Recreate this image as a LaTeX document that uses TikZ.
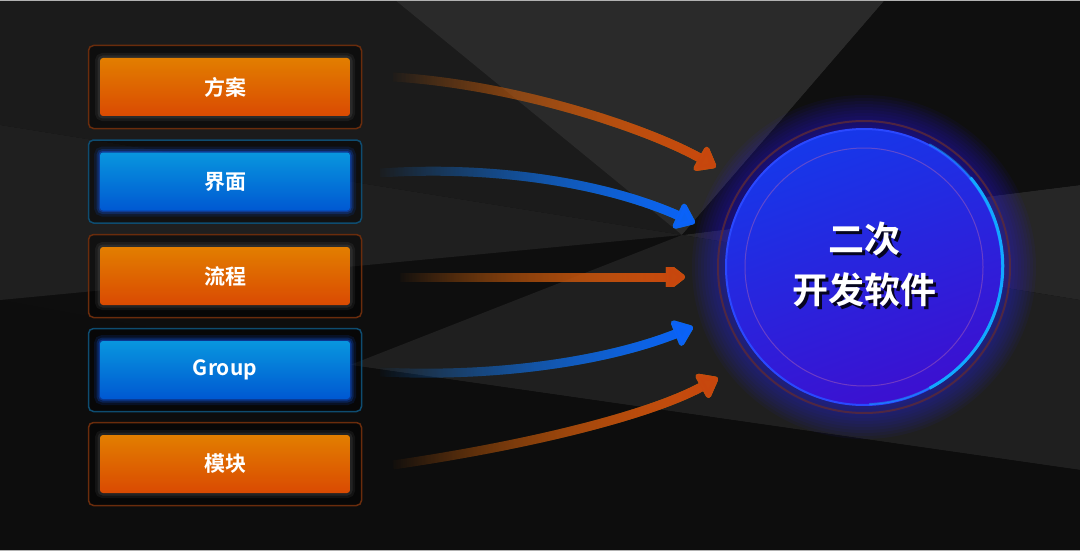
\documentclass[tikz,border=0pt]{standalone}
\usepackage{fontspec}
\usepackage{tikz}
\usetikzlibrary{arrows.meta,fadings}
\newfontfamily\cjk{Noto Sans CJK SC}[BoldFont={Noto Sans CJK SC Bold}]

\definecolor{bgdark}{HTML}{0E0E0E}
\definecolor{bgmid}{HTML}{1B1B1B}
\definecolor{bglight}{HTML}{2A2A2A}
\definecolor{orangetop}{HTML}{E27E00}
\definecolor{orangebot}{HTML}{DA4A02}
\definecolor{bluetop}{HTML}{0896DE}
\definecolor{bluebot}{HTML}{0058D2}
\definecolor{blueglow}{HTML}{1060FF}
\definecolor{orangeedge}{HTML}{6A2C0C}
\definecolor{blueedge}{HTML}{0E4C70}
\definecolor{corea}{HTML}{1638EA}
\definecolor{coreb}{HTML}{3C10D0}
\definecolor{coreedge}{HTML}{2A48FF}
\definecolor{coreglow}{HTML}{2A20F0}
\definecolor{corering}{HTML}{5C2A38}
\definecolor{corerim}{HTML}{12A8FF}
\definecolor{arroworange}{HTML}{C8460E}
\definecolor{arrowamber}{HTML}{C07A08}
\definecolor{arrowblue}{HTML}{0A62FA}
\definecolor{arrowteal}{HTML}{1C7088}

\tikzfading[name=fadein, left color=transparent!100, right color=transparent!0]
\tikzfading[name=fadelate, left color=transparent!100, middle color=transparent!85, right color=transparent!0]

\begin{document}
\begin{tikzpicture}[x=1pt,y=-1pt,
    outerbox/.style={rectangle,rounded corners=5pt,minimum width=273pt,minimum height=83pt,
      line width=1.5pt,fill=black,fill opacity=.45},
    labelbox/.style={rectangle,rounded corners=3pt,minimum width=250pt,minimum height=58pt,
      text=white,font=\cjk\bfseries\fontsize{21}{25}\selectfont},
    orangebox/.style={labelbox,top color=orangetop,bottom color=orangebot,
      preaction={draw=white,draw opacity=.05,line width=10pt},
      preaction={draw=white,draw opacity=.07,line width=5pt}},
    bluebox/.style={labelbox,top color=bluetop,bottom color=bluebot,
      preaction={draw=blueglow,draw opacity=.12,line width=12pt},
      preaction={draw=blueglow,draw opacity=.22,line width=7pt},
      preaction={draw=blueglow,draw opacity=.35,line width=3pt}},
    arr/.style={line width=9pt,-{Triangle[length=21pt,width=31pt,round]}},
    coretext/.style={align=center,font=\cjk\bfseries\fontsize{36}{51}\selectfont}]

\useasboundingbox (0,0) rectangle (1080,551);

% background facets
\fill[bgdark] (0,0) rectangle (1080,551);
\fill[bgmid] (0,0) -- (395,0) -- (682,235) -- (0,125) -- cycle;
\fill[bglight] (395,0) -- (885,0) -- (682,235) -- cycle;
\fill[black!88] (0,125) -- (682,235) -- (0,300) -- cycle;
\fill[black!85] (682,235) -- (1080,185) -- (1080,300) -- cycle;
\fill[black!88] (682,235) -- (1080,300) -- (1080,470) -- (350,365) -- cycle;
\fill[black!94] (885,0) -- (1080,0) -- (1080,185) -- (682,235) -- cycle;
\fill[black!95] (0,300) -- (350,365) -- (1080,470) -- (1080,551) -- (0,551) -- cycle;
\fill[gray!60] (0,0) rectangle (1080,1.5);
\fill[gray!60] (0,549.5) rectangle (1080,551);

% left column
\node[outerbox,draw=orangeedge] (fanganframe) at (225,87) {};
\node[outerbox,draw=blueedge] (jiemianframe) at (225,181.5) {};
\node[outerbox,draw=orangeedge] (liuchengframe) at (225,276) {};
\node[outerbox,draw=blueedge] (groupframe) at (225,370) {};
\node[outerbox,draw=orangeedge] (mokuaiframe) at (225,464) {};

\node[orangebox] (fangan) at (225,87) {方案};
\node[bluebox] (jiemian) at (225,181.5) {界面};
\node[orangebox] (liucheng) at (225,276) {流程};
\node[bluebox] (group) at (225,370) {Group};
\node[orangebox] (mokuai) at (225,464) {模块};

% core circle
\coordinate (corec) at (864,267);
\foreach \r in {139,142,...,172}
  \fill[coreglow,opacity=.055] (corec) circle[radius=\r pt];
\draw[corering,line width=2pt,opacity=.8] (corec) circle[radius=146pt];
\node[circle,minimum size=276pt,inner sep=0pt,top color=corea,bottom color=coreb,
  shading angle=20,draw=coreedge,line width=2pt] (core) at (corec) {};
\draw[corerim,line width=2pt,opacity=.5] (core.62) arc[start angle=62,end angle=-88,radius=138pt];
\draw[corerim,line width=3pt] (core.40) arc[start angle=40,end angle=-62,radius=138pt];
\draw[violet!60!white,line width=1pt,opacity=.45] (corec) circle[radius=119pt];
\node[coretext,text=black,opacity=.85] (coreshadow) at (867,267) {二次\\开发软件};
\node[coretext,text=white] (corelabel) at (864,264) {二次\\开发软件};

% arrow ends
\coordinate (s1) at (393,77);   \coordinate (e1) at (716,167);
\coordinate (s2) at (380,173);  \coordinate (e2) at (695,223);
\coordinate (s3) at (400,277);  \coordinate (e3) at (685,277);
\coordinate (s4) at (380,372);  \coordinate (e4) at (693,327);
\coordinate (s5) at (393,465);  \coordinate (e5) at (718,378);

% arrows
\draw[arr,draw=arrowamber,path fading=fadein] (s1) .. controls (520,85) and (650,130) .. (e1);
\draw[arr,draw=arroworange,path fading=fadelate] (s1) .. controls (520,85) and (650,130) .. (e1);
\draw[arr,draw=arrowteal,path fading=fadein] (s2) .. controls (500,165) and (610,185) .. (e2);
\draw[arr,draw=arrowblue,path fading=fadelate] (s2) .. controls (500,165) and (610,185) .. (e2);
\draw[arr,draw=arrowamber,path fading=fadein] (s3) -- (e3);
\draw[arr,draw=arroworange,path fading=fadelate] (s3) -- (e3);
\draw[arr,draw=arrowteal,path fading=fadein] (s4) .. controls (500,378) and (610,360) .. (e4);
\draw[arr,draw=arrowblue,path fading=fadelate] (s4) .. controls (500,378) and (610,360) .. (e4);
\draw[arr,draw=arrowamber,path fading=fadein] (s5) .. controls (530,445) and (650,415) .. (e5);
\draw[arr,draw=arroworange,path fading=fadelate] (s5) .. controls (530,445) and (650,415) .. (e5);
\end{tikzpicture}
\end{document}
